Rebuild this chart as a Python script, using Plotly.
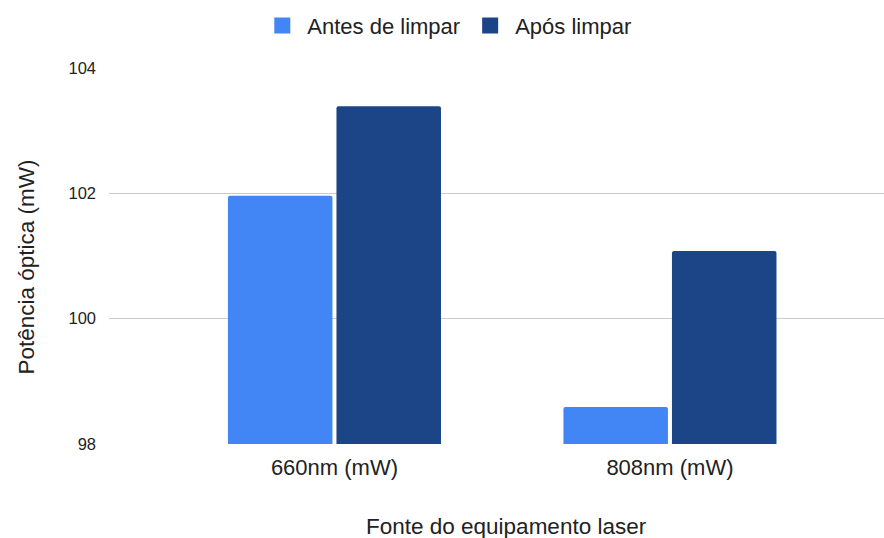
import plotly.graph_objects as go

# Optical power readings per laser source, before and after cleaning
categories = ["660nm (mW)", "808nm (mW)"]
antes_limpar = [101.96, 98.59]
apos_limpar = [103.39, 101.08]
y_ticks = [98, 100, 102, 104]

series_names = ["Antes de limpar", "Após limpar"]
series_colors = ["#4285f4", "#1c4587"]

x_title = "Fonte do equipamento laser"
y_title = "Potência óptica (mW)"

FONT = "'Liberation Sans', Arial, sans-serif"
TEXT = "#222222"

fig = go.Figure()
for name, values, color in zip(series_names, [antes_limpar, apos_limpar], series_colors):
    fig.add_trace(go.Bar(
        name=name, x=categories, y=values, showlegend=False,
        marker=dict(color=color, cornerradius=2, line=dict(width=0)),
    ))

# Legend entries drawn as larger square swatches
for name, color in zip(series_names, series_colors):
    fig.add_trace(go.Scatter(
        name=name, x=[None], y=[None], mode="markers",
        marker=dict(symbol="square", size=18, color=color),
        showlegend=True, hoverinfo="skip",
    ))

# Axis titles, placed relative to the plotting area
fig.add_annotation(
    text=x_title, xref="paper", yref="paper", x=0.5123, y=-0.2207,
    xanchor="center", yanchor="middle", showarrow=False,
    font=dict(size=22.5, color=TEXT, family=FONT),
)
fig.add_annotation(
    text=y_title, xref="paper", yref="paper", x=-0.107, y=0.4694,
    xanchor="center", yanchor="middle", showarrow=False, textangle=-90,
    font=dict(size=22.5, color=TEXT, family=FONT),
)

fig.update_layout(
    width=884, height=538,
    margin=dict(l=109, r=0, t=68, b=94),
    paper_bgcolor="white", plot_bgcolor="white",
    font=dict(family=FONT, color=TEXT),
    barmode="group", bargap=0.353, bargroupgap=0.037,
    legend=dict(
        orientation="h", xref="container", yref="container",
        x=0.506, xanchor="center", y=0.952, yanchor="middle",
        font=dict(size=22, color=TEXT, family=FONT),
        itemsizing="trace", itemwidth=40, traceorder="normal",
    ),
    xaxis=dict(
        type="category", range=[-0.672, 1.638],
        showgrid=False, showline=False, ticks="",
        tickfont=dict(size=22, color=TEXT),
        ticklabelstandoff=8,
    ),
    yaxis=dict(
        range=[98, 104], tickvals=y_ticks,
        showgrid=True, gridcolor="#cccccc", gridwidth=1,
        zeroline=False, showline=False, ticks="",
        tickfont=dict(size=16.5, color=TEXT),
        ticklabelstandoff=12,
    ),
)

fig.write_html("out.html")
